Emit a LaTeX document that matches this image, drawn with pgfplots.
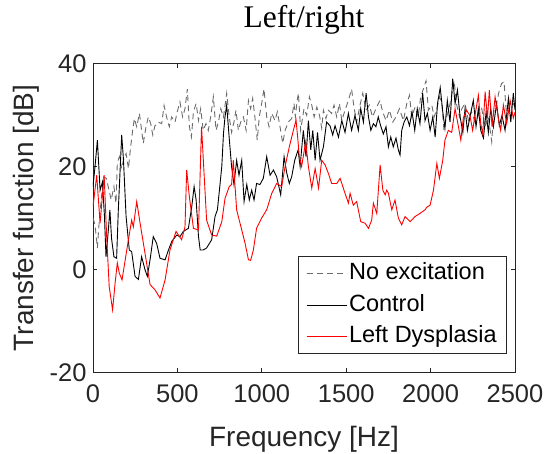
\documentclass[border=0pt]{standalone}
\usepackage{pgfplots}
\pgfplotsset{compat=1.18}
\usepackage{fontspec}
\setmainfont{Liberation Sans}
\newfontfamily\titlefont{Liberation Serif}
\definecolor{axc}{rgb}{0.15,0.15,0.15}
\definecolor{dgray}{rgb}{0.42,0.42,0.42}

\pgfplotstableread{
f db
0 10.0
12 8.7
26 4.2
36 9.0
50 14.1
64 18.0
79 17.7
95 15.4
108 13.5
124 16.1
136 12.9
144 20.6
156 21.9
170 19.6
180 21.2
196 22.5
210 19.6
223 23.8
235 27.0
245 29.3
259 27.7
275 30.3
288 27.0
298 24.5
314 27.7
328 29.6
342 28.3
354 26.1
367 27.9
387 28.6
407 28.3
421 31.8
436 29.6
452 27.7
466 29.6
486 28.6
499 30.6
515 32.5
531 29.6
545 31.2
559 35.0
571 27.7
583 25.7
595 30.6
611 32.2
625 28.9
638 31.2
653 27.0
669 28.3
683 27.0
697 29.6
713 33.5
729 27.0
743 28.6
757 31.2
773 29.6
792 34.2
807 29.6
821 26.6
835 28.6
847 30.9
861 27.0
875 28.6
891 29.6
907 27.0
921 32.8
934 31.2
946 33.2
959 29.6
973 25.1
985 29.6
999 32.2
1013 35.0
1029 29.6
1043 27.7
1059 30.3
1078 28.9
1092 30.6
1108 27.7
1124 24.5
1138 27.0
1157 28.6
1177 29.3
1191 32.2
1199 29.6
1208 32.5
1217 34.2
1230 27.0
1250 31.2
1266 29.9
1282 33.5
1296 31.9
1310 29.6
1326 31.5
1342 29.9
1355 27.4
1365 30.9
1380 29.3
1394 30.9
1414 30.3
1428 31.9
1444 29.6
1460 32.2
1474 28.9
1493 30.9
1513 32.8
1532 35.0
1546 31.5
1562 28.6
1582 31.9
1598 34.2
1618 30.9
1637 31.9
1656 29.6
1676 31.2
1700 32.8
1716 30.6
1736 28.9
1756 30.9
1776 28.6
1795 29.6
1815 31.2
1839 28.9
1859 32.2
1875 33.8
1888 29.6
1908 31.5
1927 29.6
1941 33.5
1957 35.0
1973 36.6
1987 30.9
2007 31.9
2021 29.6
2037 31.2
2053 33.5
2067 32.2
2079 27.0
2095 29.6
2111 31.5
2127 34.2
2139 36.6
2155 31.9
2171 29.6
2185 31.2
2204 32.2
2224 28.9
2243 30.6
2263 28.6
2283 29.9
2303 31.2
2323 27.7
2342 29.6
2362 24.8
2375 30.9
2391 32.2
2407 34.8
2421 36.1
2435 36.4
2451 29.6
2467 31.9
2481 32.8
2500 31.5
}\noexc

\pgfplotstableread{
f db
0 16.1
12 20.0
26 25.1
42 15.4
56 17.0
68 10.3
77 2.5
91 7.7
100 11.6
110 6.0
124 2.5
140 2.2
150 11.6
170 26.1
180 21.6
196 10.3
215 3.8
229 3.5
249 -1.3
269 -1.9
288 2.5
308 0.0
322 -1.3
338 1.9
357 6.4
377 5.1
397 2.2
427 1.9
447 3.8
467 5.5
496 6.7
515 6.4
535 7.4
565 8.0
585 12.2
599 16.1
611 13.5
625 6.4
635 3.8
653 3.8
673 4.2
703 5.8
723 10.3
737 11.6
749 15.4
763 20.0
773 26.4
782 29.6
792 31.9
807 25.5
821 20.0
835 16.5
851 21.2
865 18.3
881 21.2
895 13.2
911 16.5
926 13.5
940 15.4
954 13.5
969 16.7
989 16.5
1009 17.7
1029 21.9
1049 18.3
1069 19.3
1088 18.0
1112 14.5
1132 21.9
1148 18.7
1163 16.7
1177 18.0
1195 21.2
1215 23.2
1227 20.0
1246 27.0
1262 21.9
1276 28.9
1290 23.2
1302 27.0
1316 21.2
1330 26.6
1345 21.2
1365 23.8
1384 28.6
1404 27.9
1420 26.1
1434 27.9
1454 25.7
1474 28.9
1493 26.6
1513 30.3
1532 27.0
1552 29.9
1572 27.0
1586 31.2
1602 28.6
1618 34.2
1632 29.6
1646 27.0
1661 28.3
1676 27.7
1690 29.6
1704 27.9
1720 26.3
1736 27.7
1750 23.8
1764 25.7
1779 23.8
1795 25.5
1809 23.2
1819 22.2
1829 27.0
1843 28.6
1859 29.6
1875 27.9
1890 30.6
1906 27.0
1921 31.2
1937 28.3
1953 34.2
1967 28.9
1981 30.3
1997 27.0
2013 29.6
2027 25.7
2041 32.2
2057 35.3
2072 30.6
2085 27.4
2099 32.8
2115 28.6
2131 37.0
2145 32.2
2159 34.8
2175 29.6
2191 26.6
2204 31.2
2218 27.0
2233 29.6
2253 32.8
2269 27.7
2283 31.2
2297 27.0
2313 25.5
2329 30.6
2342 26.6
2356 31.2
2372 27.7
2391 32.2
2407 27.9
2423 29.9
2441 27.0
2461 33.2
2475 28.6
2490 34.2
2500 31.0
}\control

\pgfplotstableread{
f db
0 12.2
22 18.3
42 9.0
66 18.3
81 6.4
96 -3.3
116 -7.8
131 -2.6
144 1.3
156 -0.7
172 -2.0
200 3.8
229 9.6
239 8.3
259 13.2
279 9.0
308 3.2
338 -2.9
367 -3.9
397 -5.5
427 -2.0
456 3.8
492 7.4
525 5.8
545 8.3
555 19.3
571 14.1
595 8.0
625 7.7
643 27.7
659 18.0
673 9.6
703 6.7
733 6.5
763 9.3
782 13.8
807 16.1
821 16.5
831 21.2
851 11.6
881 7.7
901 5.1
921 1.9
934 1.8
950 3.8
969 8.0
999 10.0
1029 11.6
1059 14.8
1088 16.7
1118 16.1
1138 20.0
1163 23.8
1187 27.0
1203 29.0
1213 25.5
1222 21.9
1236 20.0
1260 24.8
1276 20.0
1296 15.8
1316 19.6
1336 15.8
1355 21.2
1375 20.3
1394 18.7
1414 16.7
1444 16.7
1464 17.7
1493 14.8
1513 12.9
1523 14.8
1542 12.5
1562 13.2
1586 9.3
1612 9.0
1632 8.0
1651 9.6
1661 12.9
1681 10.9
1701 20.3
1717 15.4
1731 14.5
1740 15.4
1750 14.8
1770 11.6
1789 13.5
1809 10.0
1829 8.7
1849 10.3
1879 9.3
1908 10.3
1937 10.9
1967 11.6
1977 12.1
1997 12.5
2017 15.4
2037 20.6
2052 17.7
2072 21.2
2085 25.1
2105 27.0
2125 26.6
2145 31.2
2165 27.7
2179 25.1
2194 29.4
2213 30.9
2233 29.9
2249 27.0
2263 29.9
2283 33.8
2297 28.3
2309 26.3
2323 34.5
2337 29.4
2348 34.8
2364 27.7
2382 33.5
2401 29.4
2415 27.0
2431 31.9
2451 28.3
2471 32.8
2490 29.4
2500 30.5
}\dysp

\begin{document}
\begin{tikzpicture}
\path[use as bounding box] (-93bp,-81bp) rectangle (453bp,372.8bp);
\begin{axis}[
  at={(0,0)}, anchor=south west,
  scale only axis, width=422bp, height=309.5bp,
  xmin=0, xmax=2500, ymin=-20, ymax=40,
  xtick={0,500,...,2500}, ytick={-20,0,20,40},
  tick align=inside, xtick pos=both, ytick pos=both,
  major tick length=4.5bp,
  axis line style={axc, line width=0.8bp},
  every tick/.style={axc, line width=0.8bp},
  /pgf/number format/assume math mode=true,
  /pgf/number format/1000 sep={},
  tick label style={font=\fontsize{25.5bp}{30bp}\selectfont, text=axc},
  xticklabel style={yshift=-8bp},
  yticklabel style={xshift=-3bp},
  xlabel={Frequency [Hz]},
  ylabel={Transfer function [dB]},
  label style={font=\fontsize{28bp}{33bp}\selectfont, text=axc},
  xlabel style={at={(axis description cs:0.5,-0.239)}, anchor=base},
  ylabel style={at={(axis description cs:-0.1576,0.5)}, anchor=center, rotate=0},
  title={Left/right},
  title style={font=\titlefont\fontsize{31.5bp}{36bp}\selectfont, at={(axis description cs:0.5,1.097)}, anchor=base},
  legend cell align=left,
  legend style={at={(axis description cs:0.980,0.060)}, anchor=south east,
    font=\fontsize{23.5bp}{28bp}\selectfont, draw=axc, line width=0.8bp, fill=white,
    inner xsep=7.5bp, inner ysep=4bp, row sep=5.7bp,
    nodes={inner sep=2bp, text height=17bp, text depth=5bp}},
  legend image code/.code={\draw[#1] (0bp,0bp) -- (40bp,0bp);},
]
\addplot[dgray, line width=0.9bp, dash pattern=on 6bp off 4bp] table[x=f,y=db] {\noexc};
\addlegendentry{No excitation}
\addplot[black, line width=0.9bp] table[x=f,y=db] {\control};
\addlegendentry{Control}
\addplot[red, line width=0.9bp] table[x=f,y=db] {\dysp};
\addlegendentry{Left Dysplasia}
\end{axis}
\end{tikzpicture}
\end{document}
